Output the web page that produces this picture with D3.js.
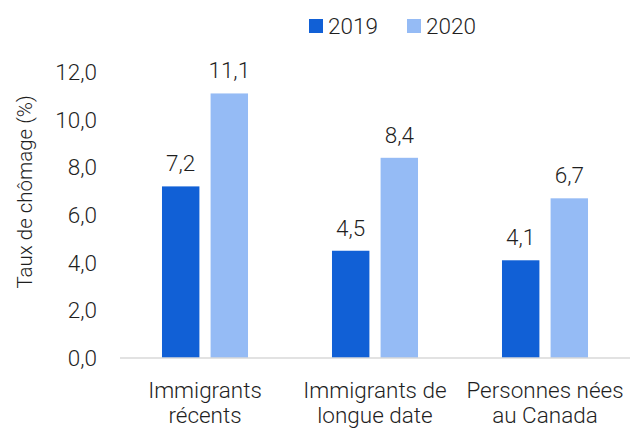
<!DOCTYPE html>
<html>
<head>
<meta charset="utf-8">
<script src="https://cdn.jsdelivr.net/npm/d3@7"></script>
<style>
  body { margin: 0; background: #fff; }
  text { font-family: Roboto, "Liberation Sans", sans-serif; font-weight: 300; fill: #1f1f1f; }
</style>
</head>
<body>
<div id="chart"></div>
<script>
// data
const categories = [["Immigrants", "récents"], ["Immigrants de", "longue date"], ["Personnes nées", "au Canada"]]
const seriesNames = ["2019", "2020"]
const values2019 = [7.2, 4.5, 4.1]
const values2020 = [11.1, 8.4, 6.7]
const yTicks = [0, 2, 4, 6, 8, 10, 12]
const colors = ["#1160d6", "#95bbf5"]

const width = 631, height = 429
const margin = {left: 120, right: 1, top: 72, bottom: 71}

const svg = d3.select("#chart").append("svg")
  .attr("width", width).attr("height", height)

const fmt = v => d3.format(".1f")(v).replace(".", ",")

const x0 = d3.scaleBand().domain(d3.range(categories.length))
  .range([margin.left, width - margin.right])
  .paddingInner(0.494).paddingOuter(0.247)
const x1 = d3.scaleBand().domain(seriesNames).range([0, x0.bandwidth()]).paddingInner(0.23)
const y = d3.scaleLinear().domain([0, 12]).range([height - margin.bottom, margin.top])

// y tick labels
svg.append("g").selectAll("text").data(yTicks).enter().append("text")
  .attr("x", 97).attr("y", d => y(d)).attr("dy", "0.35em")
  .attr("text-anchor", "end").style("font-size", "22.5px")
  .text(fmt)

// y title
svg.append("text")
  .attr("transform", "translate(32,192) rotate(-90)")
  .attr("text-anchor", "middle").style("font-size", "20.5px")
  .text("Taux de chômage (%)")

// bars
const groups = svg.append("g").selectAll("g").data(categories).enter().append("g")
  .attr("transform", (d, i) => "translate(" + x0(i) + ",0)")

groups.each(function(d, i) {
  const vals = [values2019[i], values2020[i]]
  const g = d3.select(this)
  g.selectAll("rect").data(vals).enter().append("rect")
    .attr("x", (v, j) => x1(seriesNames[j]))
    .attr("y", v => y(v))
    .attr("width", x1.bandwidth())
    .attr("height", v => y(0) - y(v))
    .attr("fill", (v, j) => colors[j])
  g.selectAll("text.val").data(vals).enter().append("text").classed("val", true)
    .attr("x", (v, j) => x1(seriesNames[j]) + x1.bandwidth() / 2)
    .attr("y", v => y(v) - 15)
    .attr("text-anchor", "middle").style("font-size", "22.5px")
    .text(fmt)
})

// baseline
svg.append("line")
  .attr("x1", margin.left).attr("x2", width - margin.right)
  .attr("y1", y(0)).attr("y2", y(0))
  .attr("stroke", "#d9d9d9").attr("stroke-width", 1.5)

// category labels
const cat = svg.append("g").selectAll("text").data(categories).enter().append("text")
  .attr("text-anchor", "middle").style("font-size", "22.5px")
  .attr("transform", (d, i) => "translate(" + (x0(i) + x0.bandwidth() / 2) + ",398)")
cat.selectAll("tspan").data(d => d).enter().append("tspan")
  .attr("x", 0).attr("y", (d, k) => k * 25).text(d => d)

// legend
const legend = svg.append("g").selectAll("g").data(seriesNames).enter().append("g")
  .attr("transform", (d, i) => "translate(" + (309 + i * 98) + ",19)")
legend.append("rect").attr("width", 14).attr("height", 14).attr("fill", (d, i) => colors[i])
legend.append("text").attr("x", 19).attr("y", 7).attr("dy", "0.35em")
  .style("font-size", "22.5px").text(d => d)
</script>
</body>
</html>
